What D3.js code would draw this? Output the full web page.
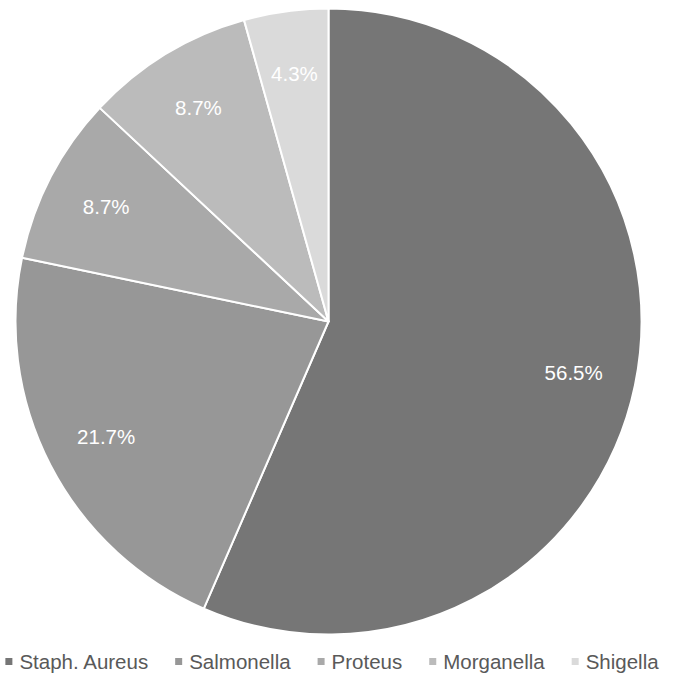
<!DOCTYPE html>
<html>
<head>
<meta charset="utf-8">
<script src="https://cdn.jsdelivr.net/npm/d3@7"></script>
<style>
  html, body { margin: 0; padding: 0; background: #fff; overflow: hidden; }
  svg { display: block; }
</style>
</head>
<body>
<svg id="chart" width="673" height="674"></svg>
<script>
// Isolates by organism (counts)
const categories = ["Staph. Aureus", "Salmonella", "Proteus", "Morganella", "Shigella"];
const counts = [13, 5, 2, 2, 1];
const colors = ["#767676", "#979797", "#a9a9a9", "#bbbbbb", "#dadada"];

const width = 673, height = 674;
const cx = 328.5, cy = 321.5, radius = 313;
const font = "'Liberation Sans', Arial, sans-serif";

const svg = d3.select("#chart");
const total = d3.sum(counts);
const data = categories.map((c, i) => ({ name: c, value: counts[i], color: colors[i] }));

const pie = d3.pie().value(d => d.value).sort(null);
const arc = d3.arc().innerRadius(0).outerRadius(radius);
const labelArc = d3.arc().innerRadius(radius * 0.8).outerRadius(radius * 0.8);

const g = svg.append("g").attr("transform", `translate(${cx},${cy})`);
const arcs = pie(data);

g.selectAll("path")
  .data(arcs)
  .join("path")
  .attr("d", arc)
  .attr("fill", d => d.data.color)
  .attr("stroke", "#ffffff")
  .attr("stroke-width", 2)
  .attr("stroke-linejoin", "round");

const fmt = v => (v / total * 100).toFixed(1) + "%";

g.selectAll("text.value")
  .data(arcs)
  .join("text")
  .attr("class", "value")
  .attr("transform", d => `translate(${labelArc.centroid(d)})`)
  .attr("text-anchor", "middle")
  .attr("dominant-baseline", "central")
  .attr("font-family", font)
  .attr("font-size", "20.5px")
  .attr("fill", "#ffffff")
  .text(d => fmt(d.data.value));

// Legend along the bottom edge
const legend = svg.append("g");
const items = legend.selectAll("g.item")
  .data(data)
  .join("g")
  .attr("class", "item");

items.append("rect")
  .attr("width", 7)
  .attr("height", 7)
  .attr("y", -11)
  .attr("fill", d => d.color);

items.append("text")
  .attr("x", 14)
  .attr("font-family", font)
  .attr("font-size", "20.5px")
  .attr("fill", "#595959")
  .text(d => d.name);

let x = 0;
const gap = 27;
items.each(function () {
  const item = d3.select(this);
  item.attr("transform", `translate(${x},0)`);
  const w = item.select("text").node().getComputedTextLength();
  x += 14 + w + gap;
});
const legendWidth = x - gap;
legend.attr("transform", `translate(${332 - legendWidth / 2},669)`);
</script>
</body>
</html>
